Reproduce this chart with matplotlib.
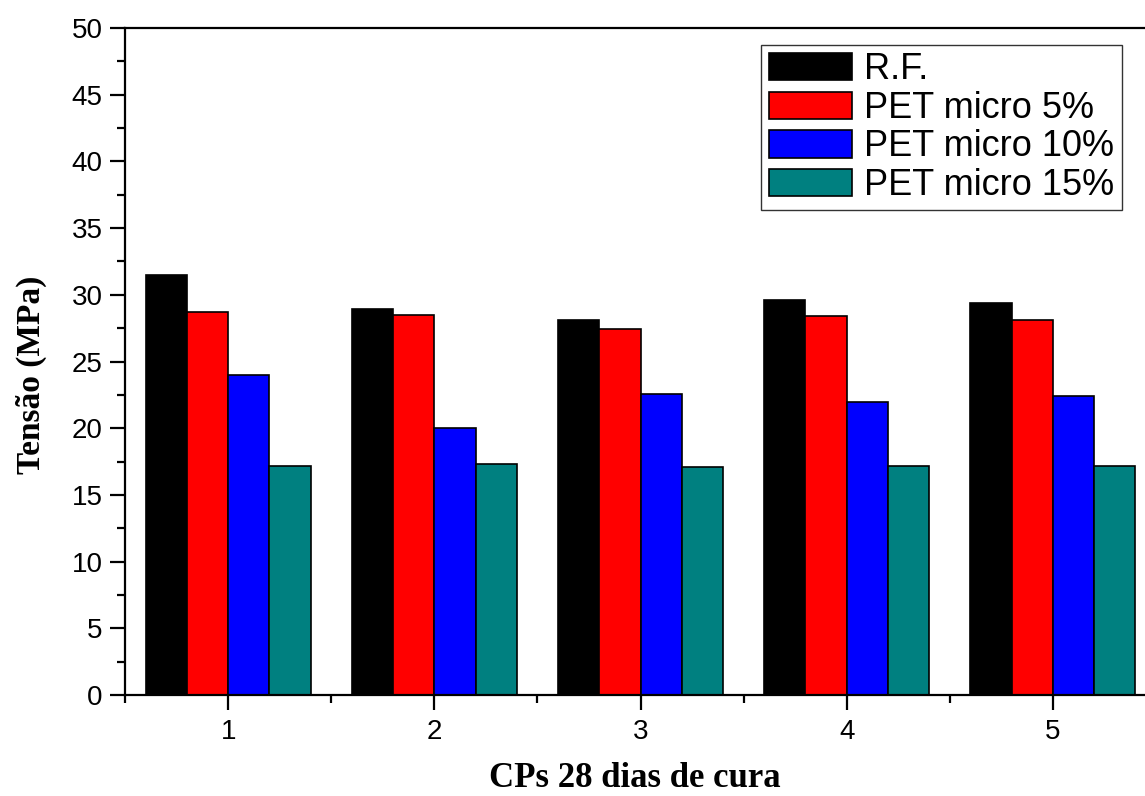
import matplotlib
matplotlib.use("Agg")
import matplotlib.pyplot as plt
import numpy as np
from matplotlib.ticker import MultipleLocator

# corpos de prova, 28 dias de cura
cps = [1, 2, 3, 4, 5]
rf = [31.5, 28.9, 28.1, 29.6, 29.4]
pet5 = [28.7, 28.5, 27.4, 28.4, 28.1]
pet10 = [24.0, 20.0, 22.6, 22.0, 22.4]
pet15 = [17.2, 17.3, 17.1, 17.2, 17.2]

labels = ["R.F.", "PET micro 5%", "PET micro 10%", "PET micro 15%"]
colors = ["#000000", "#ff0000", "#0000ff", "#008080"]

fig = plt.figure(figsize=(11.45, 7.96), dpi=100)
ax = fig.add_axes([0.1092, 0.1269, 0.9004, 0.8379])

x = np.array(cps)
w = 0.2
series = [rf, pet5, pet10, pet15]
for i, vals in enumerate(series):
	ax.bar(x - 0.3 + i*w, vals, width=w, color=colors[i], edgecolor="black",
		linewidth=1.2, label=labels[i])

ax.set_xlim(0.5, 5.5)
ax.set_ylim(0, 50)
ax.set_xticks(cps)
ax.xaxis.set_minor_locator(MultipleLocator(0.5))
ax.yaxis.set_major_locator(MultipleLocator(5))
ax.yaxis.set_minor_locator(MultipleLocator(2.5))

for s in ax.spines.values():
	s.set_linewidth(1.6)

ax.tick_params(which="major", direction="out", length=11, width=1.6, pad=6,
	labelsize=20)
ax.tick_params(axis="y", which="major", pad=5)
ax.tick_params(which="minor", direction="out", length=6, width=1.6)
for t in ax.get_xticklabels() + ax.get_yticklabels():
	t.set_fontfamily("Liberation Sans")

ax.set_xlabel("CPs 28 dias de cura", fontsize=25, fontweight="bold",
	fontfamily="Liberation Serif")
ax.set_ylabel("Tensão (MPa)", fontsize=24, fontweight="bold",
	fontfamily="Liberation Serif")
ax.xaxis.set_label_coords(0.4947, -0.1005)
ax.yaxis.set_label_coords(-0.076, 0.48)

leg = ax.legend(loc="upper right", bbox_to_anchor=(0.9667, 0.9745),
	borderaxespad=0, fancybox=False, framealpha=1, edgecolor="#333333",
	prop={"family": "Liberation Sans", "size": 26}, handlelength=2.3,
	handleheight=0.79, handletextpad=0.35, labelspacing=0.1, borderpad=0.2)
leg.get_frame().set_linewidth(1.0)

fig.savefig("out.png", dpi=100)
